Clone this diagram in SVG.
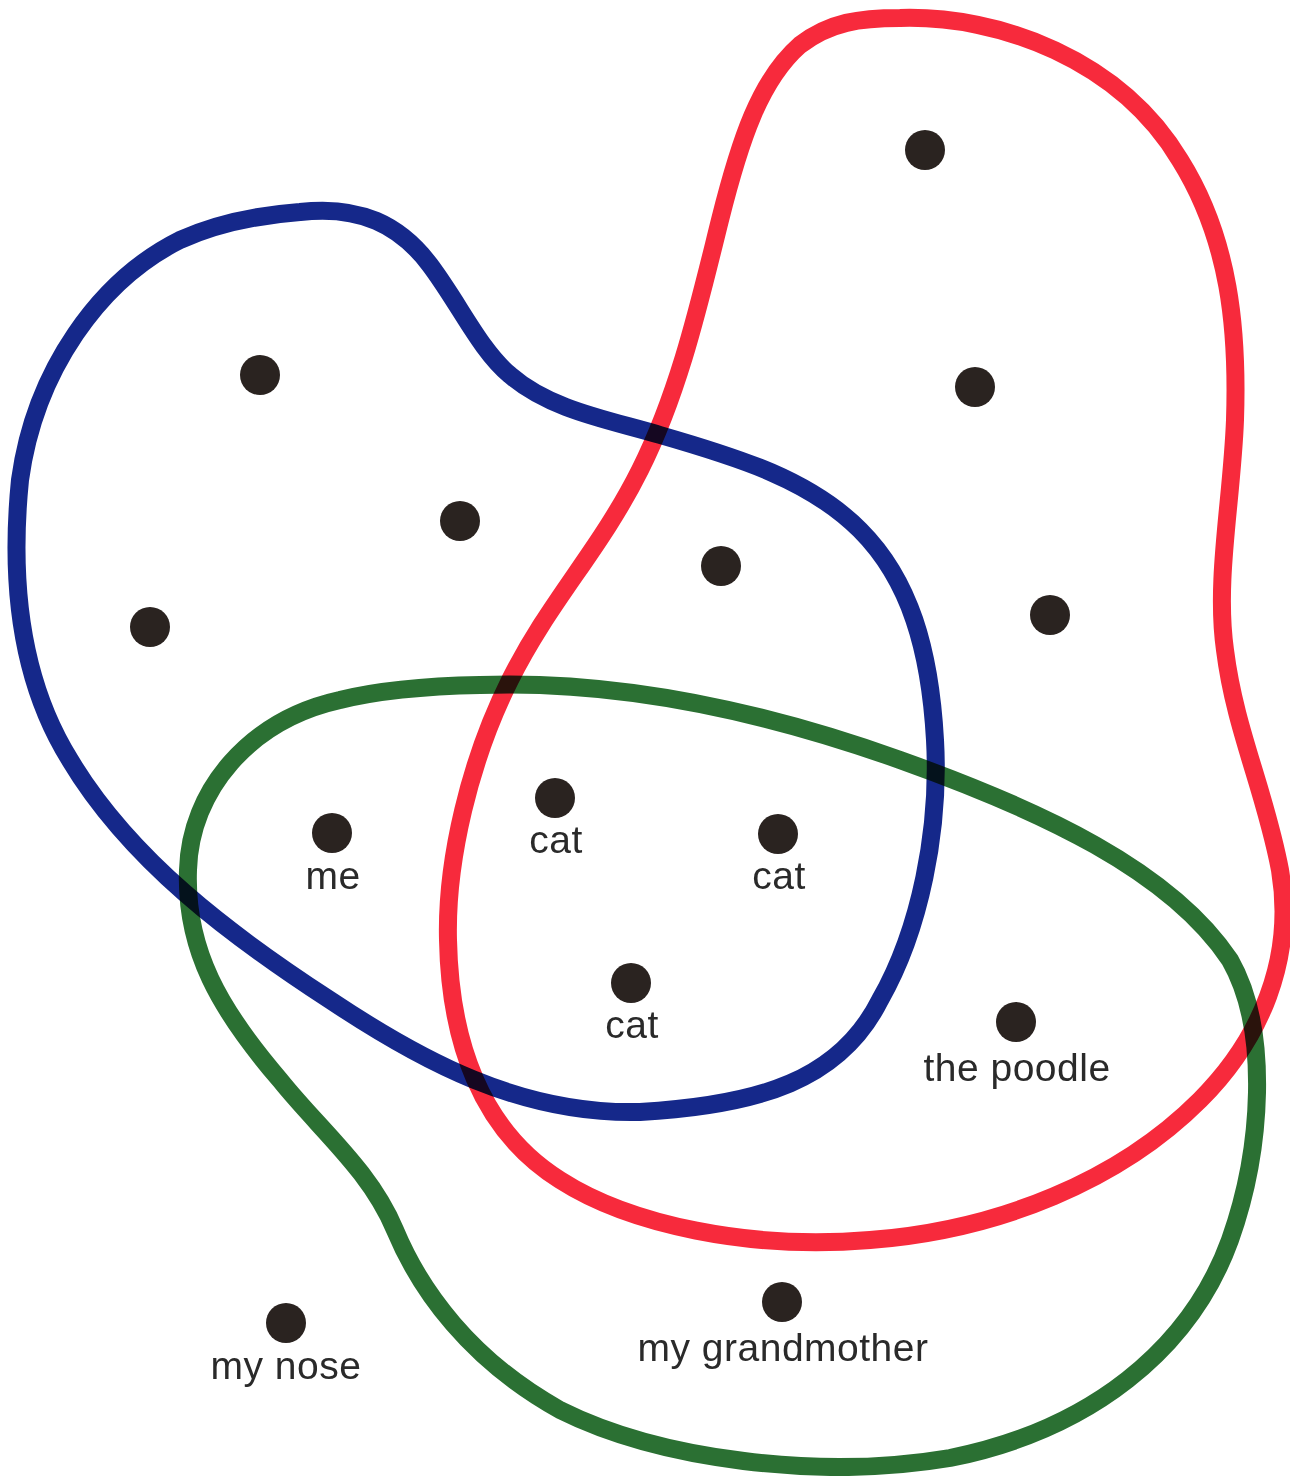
<svg xmlns="http://www.w3.org/2000/svg" width="1290" height="1480" viewBox="0 0 1290 1480">
<style>
.set{fill:none;stroke-width:18;stroke-linejoin:round;mix-blend-mode:multiply}
.blue{stroke:#15288a}
.red{stroke:#f72a3c}
.green{stroke:#2b7033}
.dot{fill:#2a2320}
.lbl{font-family:"Liberation Sans",Arial,sans-serif;font-size:39px;fill:#2a2a2a;text-anchor:middle;letter-spacing:0.5px}
</style>
<rect width="1290" height="1480" fill="#ffffff"/>
<g id="sets">
<path id="blue-set" class="set blue" d="M 300 212 C 360 205 400 225 430 265 C 460 305 480 350 510 375 C 550 410 610 420 660 435 C 740 458 810 480 860 530 C 910 580 930 650 935 740 C 940 830 920 930 880 1000 C 840 1080 760 1105 640 1112 C 520 1115 420 1060 330 1000 C 230 935 130 860 70 760 C 20 680 10 580 20 480 C 35 370 100 280 180 240 C 220 222 260 215 300 212 Z"/>
<path id="red-set" class="set red" d="M 900 18 C 1000 15 1120 60 1180 160 C 1230 240 1238 330 1235 420 C 1232 500 1215 580 1225 650 C 1235 730 1265 790 1280 870 C 1295 960 1260 1040 1200 1100 C 1120 1180 1000 1230 870 1240 C 750 1250 630 1225 560 1180 C 480 1130 450 1040 448 940 C 446 860 470 760 510 680 C 550 600 600 550 640 470 C 680 390 700 300 720 220 C 740 140 760 80 800 45 C 830 22 860 18 900 18 Z"/>
<path id="green-set" class="set green" d="M 480 685 C 620 680 760 710 900 760 C 1040 810 1170 870 1230 960 C 1270 1030 1262 1150 1230 1240 C 1190 1350 1090 1430 950 1458 C 820 1480 660 1460 560 1410 C 470 1360 420 1290 395 1230 C 370 1170 320 1130 280 1080 C 220 1010 185 950 188 870 C 190 790 250 720 340 700 C 380 690 430 686 480 685 Z"/>
</g>
<g id="n1"><circle class="dot" cx="925" cy="150" r="20"/></g>
<g id="n2"><circle class="dot" cx="975" cy="387" r="20"/></g>
<g id="n3"><circle class="dot" cx="1050" cy="615" r="20"/></g>
<g id="n4"><circle class="dot" cx="260" cy="375" r="20"/></g>
<g id="n5"><circle class="dot" cx="460" cy="521" r="20"/></g>
<g id="n6"><circle class="dot" cx="150" cy="627" r="20"/></g>
<g id="n7"><circle class="dot" cx="721" cy="566" r="20"/></g>
<g id="me"><circle class="dot" cx="332" cy="833" r="20"/><text class="lbl" x="333" y="889">me</text></g>
<g id="cat1"><circle class="dot" cx="555" cy="798" r="20"/><text class="lbl" x="556" y="853">cat</text></g>
<g id="cat2"><circle class="dot" cx="778" cy="834" r="20"/><text class="lbl" x="779" y="889">cat</text></g>
<g id="cat3"><circle class="dot" cx="631" cy="983" r="20"/><text class="lbl" x="632" y="1038">cat</text></g>
<g id="poodle"><circle class="dot" cx="1016" cy="1022" r="20"/><text class="lbl" x="1017" y="1081">the poodle</text></g>
<g id="grandmother"><circle class="dot" cx="782" cy="1302" r="20"/><text class="lbl" x="783" y="1361">my grandmother</text></g>
<g id="nose"><circle class="dot" cx="286" cy="1323" r="20"/><text class="lbl" x="286" y="1379">my nose</text></g>
</svg>
